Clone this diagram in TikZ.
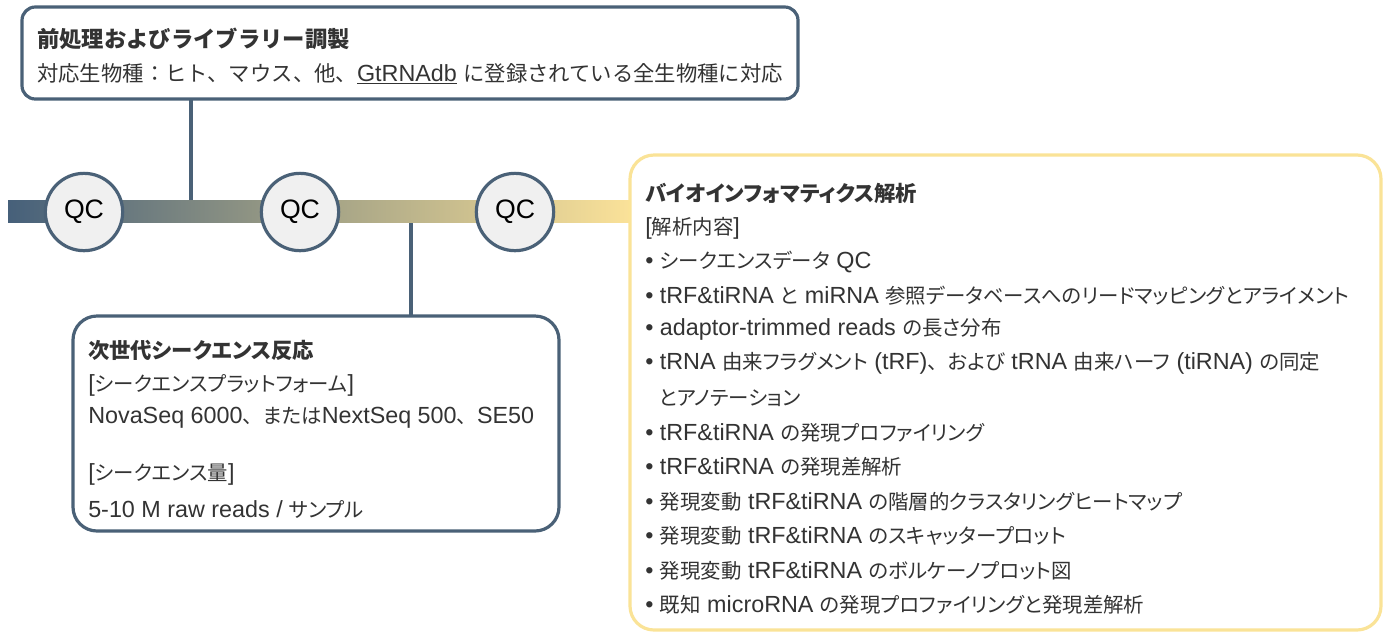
\documentclass[tikz,border=0pt]{standalone}
\usepackage{fontspec}
\setmainfont{Liberation Sans}
\newfontfamily\jp{Noto Sans CJK JP}[RawFeature={+palt}, Scale=0.875]
\newfontfamily\jf{Noto Sans CJK JP}[Scale=0.915]
\newfontfamily\jc{Noto Sans CJK JP}[Scale=0.875]
\newcommand\JP[1]{{\jp #1}}
\newcommand\JF[1]{{\jf #1}}
\newcommand\tenC{{\jc 、}}
\definecolor{slate}{HTML}{4A6177}
\definecolor{barL}{HTML}{46607A}
\definecolor{barM}{HTML}{A3A286}
\definecolor{barR}{HTML}{FBE299}
\definecolor{ybord}{HTML}{FAE397}
\definecolor{circf}{HTML}{F0F0F0}
\definecolor{textc}{HTML}{333333}
\tikzset{
  txt/.style={anchor=west, inner sep=0pt, text=textc, font=\fontsize{17.5}{21}\selectfont},
  ttl/.style={txt, font=\fontsize{18.3}{21}\selectfont\bfseries},
  qc/.style={circle, draw=slate, line width=2.4pt, fill=circf, minimum size=58pt, inner sep=0pt, font=\fontsize{20}{24}\selectfont},
  sbox/.style={draw=slate, line width=2.4pt, fill=white},
}
\begin{document}
\begin{tikzpicture}[x=0.75pt,y=-0.75pt]
\useasboundingbox (0,0) rectangle (1389,633);
% connectors
\coordinate (v1t) at (191,99);
\coordinate (v1b) at (191,201);
\coordinate (v2t) at (411,221);
\coordinate (v2b) at (411,317);
\draw[slate, line width=2.4pt] (v1t) -- (v1b);
\draw[slate, line width=2.4pt] (v2t) -- (v2b);
% bar
\shade[left color=barL, right color=barR, middle color=barM] (8,200) rectangle (632,222);
% top box
\draw[sbox, rounded corners=10pt] (22,7) rectangle (798,99);
\node[ttl] (t1) at (37,39) {\JF{前処理およびライブラリー調製}};
\node[txt] (t2) at (37,74) {\JF{対応生物種：ヒト、マウス、他、}\underline{GtRNAdb} \JF{に登録されている全生物種に対応}};
% circles
\node[qc] (qc1) at (84,212) {QC};
\node[qc] (qc2) at (300,212) {QC};
\node[qc] (qc3) at (515,212) {QC};
% second box
\draw[sbox, rounded corners=18pt] (73,316) rectangle (559,531);
\node[ttl] (s1) at (88,350) {\JP{次世代シークエンス反応}};
\node[txt] (s2) at (88,385) {[\JP{シークエンスプラットフォーム}]};
\node[txt] (s3) at (88,418) {NovaSeq 6000\tenC\JP{または}NextSeq 500\tenC SE50};
\node[txt] (s4) at (88,474) {[\JP{シークエンス量}]};
\node[txt] (s5) at (88,509) {5-10 M raw reads / \JP{サンプル}};
% third box
\draw[draw=ybord, line width=2.4pt, fill=white, rounded corners=18pt] (630,155) rectangle (1381,630);
\node[ttl] (b0) at (645,193) {\JP{バイオインフォマティクス解析}};
\node[txt] (b1) at (645,228) {[\JP{解析内容}]};
\node[txt] (b2) at (645,262) {• \JP{シークエンスデータ} QC};
\node[txt] (b3) at (645,296) {• tRF\&tiRNA \JP{と} miRNA \JP{参照データベースへのリードマッピングとアライメント}};
\node[txt] (b4) at (645,329) {• adaptor-trimmed reads \JP{の長さ分布}};
\node[txt] (b5) at (645,363) {• tRNA \JP{由来フラグメント} (tRF)\tenC\JP{および} tRNA \JP{由来ハーフ} (tiRNA) \JP{の同定}};
\node[txt] (b5b) at (659,398) {\JP{とアノテーション}};
\node[txt] (b6) at (645,433) {• tRF\&tiRNA \JP{の発現プロファイリング}};
\node[txt] (b7) at (645,467) {• tRF\&tiRNA \JP{の発現差解析}};
\node[txt] (b8) at (645,502) {• \JP{発現変動} tRF\&tiRNA \JP{の階層的クラスタリングヒートマップ}};
\node[txt] (b9) at (645,536) {• \JP{発現変動} tRF\&tiRNA \JP{のスキャッタープロット}};
\node[txt] (b10) at (645,571) {• \JP{発現変動} tRF\&tiRNA \JP{のボルケーノプロット図}};
\node[txt] (b11) at (645,605) {• \JP{既知} microRNA \JP{の発現プロファイリングと発現差解析}};
\end{tikzpicture}
\end{document}
